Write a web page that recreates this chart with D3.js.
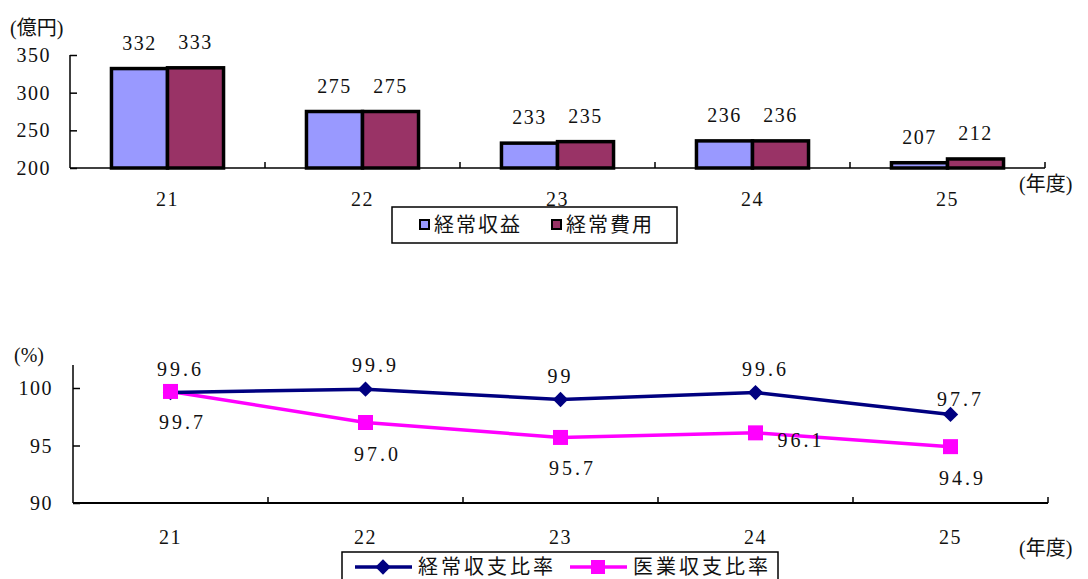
<!DOCTYPE html>
<html>
<head>
<meta charset="utf-8">
<script src="https://cdn.jsdelivr.net/npm/d3@7"></script>
<style>
  html, body { margin: 0; padding: 0; background: #fff; }
  svg { display: block; }
  text { fill: #111; }
</style>
</head>
<body>
<svg id="chart" width="1088" height="579" font-family="'Liberation Serif', 'DejaVu Serif', 'Noto Sans CJK JP', serif"></svg>
<script>
// Fiscal years (Heisei)
const years = ["21", "22", "23", "24", "25"];

// Ordinary revenue / ordinary expenses (100 million yen)
const revenue = [332, 275, 233, 236, 207];
const expenses = [333, 275, 235, 236, 212];
const amountTicks = [200, 250, 300, 350];

// Ratios (%)
const ordinaryRatio = [99.6, 99.9, 99, 99.6, 97.7];
const medicalRatio = [99.7, 97.0, 95.7, 96.1, 94.9];
const ratioTicks = [90, 95, 100];

const barSeries = [
  { name: "経常収益", values: revenue, color: "#9999FF" },
  { name: "経常費用", values: expenses, color: "#993366" }
];

const svg = d3.select("#chart");
const FONT = 20;

// ---------- Upper chart: revenue and expenses ----------
const upper = svg.append("g");
const x1 = d3.scaleBand().domain(years).range([70, 1045]).padding(0);
const xs1 = d3.scaleBand().domain(barSeries.map(d => d.name))
  .range([0, x1.bandwidth()]).paddingInner(0).paddingOuter(0.74);
const y1 = d3.scaleLinear().domain([200, 350]).range([168, 55]);

// y axis
const yAxis1 = upper.append("g").attr("transform", "translate(70,0)")
  .call(d3.axisRight(y1).tickValues(amountTicks).tickSize(7).tickFormat(""));
yAxis1.select(".domain").attr("d", `M0,${y1(350)}V${y1(200)}`);
yAxis1.selectAll("path, line").attr("stroke", "#000").attr("stroke-width", 1.5);
upper.selectAll(".ytl").data(amountTicks).join("text")
  .attr("x", 51).attr("y", d => y1(d) + 7)
  .attr("text-anchor", "end").attr("font-size", FONT).attr("letter-spacing", 1.5)
  .text(d => d);

// bars
barSeries.forEach(s => {
  upper.append("g").selectAll("rect").data(years).join("rect")
    .attr("x", (d) => x1(d) + xs1(s.name))
    .attr("y", (d, i) => y1(s.values[i]))
    .attr("width", xs1.bandwidth())
    .attr("height", (d, i) => y1(200) - y1(s.values[i]))
    .attr("fill", s.color).attr("stroke", "#000").attr("stroke-width", 3.5);
  upper.append("g").selectAll("text").data(years).join("text")
    .attr("x", d => x1(d) + xs1(s.name) + xs1.bandwidth() / 2)
    .attr("y", (d, i) => y1(s.values[i]) - 19)
    .attr("text-anchor", "middle").attr("font-size", FONT).attr("letter-spacing", 1.5)
    .text((d, i) => s.values[i]);
});

// x axis
const xAxis1 = upper.append("g").attr("transform", `translate(0,${y1(200)})`);
xAxis1.append("line").attr("x1", 70).attr("x2", 1045).attr("stroke", "#000").attr("stroke-width", 1.5);
xAxis1.selectAll(".xt").data(years).join("line")
  .attr("x1", d => x1(d) + x1.bandwidth()).attr("x2", d => x1(d) + x1.bandwidth())
  .attr("y1", 0).attr("y2", -6).attr("stroke", "#000").attr("stroke-width", 1.5);
upper.selectAll(".xtl").data(years).join("text")
  .attr("x", d => x1(d) + x1.bandwidth() / 2).attr("y", 206)
  .attr("text-anchor", "middle").attr("font-size", FONT).attr("letter-spacing", 1.5)
  .text(d => d);

upper.append("text").attr("x", 10).attr("y", 35).attr("font-size", FONT).text("(億円)");
upper.append("text").attr("x", 1019).attr("y", 191).attr("font-size", FONT).text("(年度)");

// legend
const lg1 = upper.append("g").attr("transform", "translate(392,207)");
lg1.append("rect").attr("width", 285).attr("height", 36)
  .attr("fill", "#fff").attr("stroke", "#000").attr("stroke-width", 1.5);
barSeries.forEach((s, i) => {
  const ox = 28 + i * 132;
  lg1.append("rect").attr("x", ox).attr("y", 13).attr("width", 9).attr("height", 9)
    .attr("fill", s.color).attr("stroke", "#000").attr("stroke-width", 2);
  lg1.append("text").attr("x", ox + 14).attr("y", 25).attr("font-size", FONT)
    .attr("letter-spacing", 2).text(s.name);
});

// ---------- Lower chart: ratios ----------
const lower = svg.append("g");
const x2 = d3.scaleBand().domain(years).range([73, 1048]).padding(0);
const y2 = d3.scaleLinear().domain([90, 102]).range([503, 365]);
const cx = d => x2(d) + x2.bandwidth() / 2;

const yAxis2 = lower.append("g").attr("transform", "translate(73,0)")
  .call(d3.axisRight(y2).tickValues(ratioTicks).tickSize(7).tickFormat(""));
yAxis2.select(".domain").attr("d", `M0,${y2(102)}V${y2(90)}`);
yAxis2.selectAll("path, line").attr("stroke", "#000").attr("stroke-width", 1.5);
lower.selectAll(".ytl").data(ratioTicks).join("text")
  .attr("x", 53).attr("y", d => y2(d) + 7)
  .attr("text-anchor", "end").attr("font-size", FONT).attr("letter-spacing", 1.5)
  .text(d => d);

const xAxis2 = lower.append("g").attr("transform", `translate(0,${y2(90)})`);
xAxis2.append("line").attr("x1", 73).attr("x2", 1048).attr("stroke", "#000").attr("stroke-width", 2);
xAxis2.selectAll(".xt").data(years).join("line")
  .attr("x1", d => x2(d) + x2.bandwidth()).attr("x2", d => x2(d) + x2.bandwidth())
  .attr("y1", 0).attr("y2", -6).attr("stroke", "#000").attr("stroke-width", 1.5);
lower.selectAll(".xtl").data(years).join("text")
  .attr("x", d => cx(d)).attr("y", 544)
  .attr("text-anchor", "middle").attr("font-size", FONT).attr("letter-spacing", 1.5)
  .text(d => d);

lower.append("text").attr("x", 14).attr("y", 362).attr("font-size", FONT).text("(%)");
lower.append("text").attr("x", 1019).attr("y", 555).attr("font-size", FONT).text("(年度)");

const line = d3.line().x((d, i) => cx(years[i])).y(d => y2(d));

// medical ratio (magenta, squares)
lower.append("path").datum(medicalRatio).attr("d", line)
  .attr("fill", "none").attr("stroke", "#FF00FF").attr("stroke-width", 3.5);
// ordinary ratio (navy, diamonds)
lower.append("path").datum(ordinaryRatio).attr("d", line)
  .attr("fill", "none").attr("stroke", "#000080").attr("stroke-width", 3.5);

const diamond = d3.symbol().type(d3.symbolDiamond2).size(150);
lower.append("g").selectAll("path").data(ordinaryRatio).join("path")
  .attr("d", diamond)
  .attr("transform", (d, i) => `translate(${cx(years[i])},${y2(d)})`)
  .attr("fill", "#000080");
lower.append("g").selectAll("rect").data(medicalRatio).join("rect")
  .attr("x", (d, i) => cx(years[i]) - 7.5).attr("y", d => y2(d) - 7.5)
  .attr("width", 15).attr("height", 15).attr("fill", "#FF00FF");

// data labels
const fmtGeneral = d3.format("~g");
const fmtFixed = d3.format(".1f");
lower.append("g").selectAll("text").data(ordinaryRatio).join("text")
  .attr("x", (d, i) => cx(years[i]) + (Number.isInteger(d) ? 0 : 10))
  .attr("y", (d, i) => y2(d) - (i === 4 ? 8 : 17))
  .attr("text-anchor", "middle").attr("font-size", FONT).attr("letter-spacing", 3)
  .text(d => fmtGeneral(d));

// labels below the marker, except where it would collide with the other line
const medicalPlace = ["below", "below", "below", "right", "below"];
lower.append("g").selectAll("text").data(medicalRatio).join("text")
  .attr("x", (d, i) => medicalPlace[i] === "right" ? cx(years[i]) + 22 : cx(years[i]) + 12)
  .attr("y", (d, i) => medicalPlace[i] === "right" ? y2(d) + 14 : y2(d) + 38)
  .attr("text-anchor", (d, i) => medicalPlace[i] === "right" ? "start" : "middle")
  .attr("font-size", FONT).attr("letter-spacing", 3)
  .text(d => fmtFixed(d));

// legend
const lg2 = lower.append("g").attr("transform", "translate(342,552)");
lg2.append("rect").attr("width", 436).attr("height", 40)
  .attr("fill", "#fff").attr("stroke", "#000").attr("stroke-width", 1.5);
lg2.append("line").attr("x1", 13).attr("x2", 70).attr("y1", 15).attr("y2", 15)
  .attr("stroke", "#000080").attr("stroke-width", 3.5);
lg2.append("path").attr("d", diamond).attr("transform", "translate(41,15)").attr("fill", "#000080");
lg2.append("text").attr("x", 76).attr("y", 22).attr("font-size", FONT).attr("letter-spacing", 3)
  .text("経常収支比率");
lg2.append("line").attr("x1", 228).attr("x2", 285).attr("y1", 15).attr("y2", 15)
  .attr("stroke", "#FF00FF").attr("stroke-width", 3.5);
lg2.append("rect").attr("x", 249).attr("y", 8).attr("width", 14).attr("height", 14).attr("fill", "#FF00FF");
lg2.append("text").attr("x", 291).attr("y", 22).attr("font-size", FONT).attr("letter-spacing", 3)
  .text("医業収支比率");
</script>
</body>
</html>
